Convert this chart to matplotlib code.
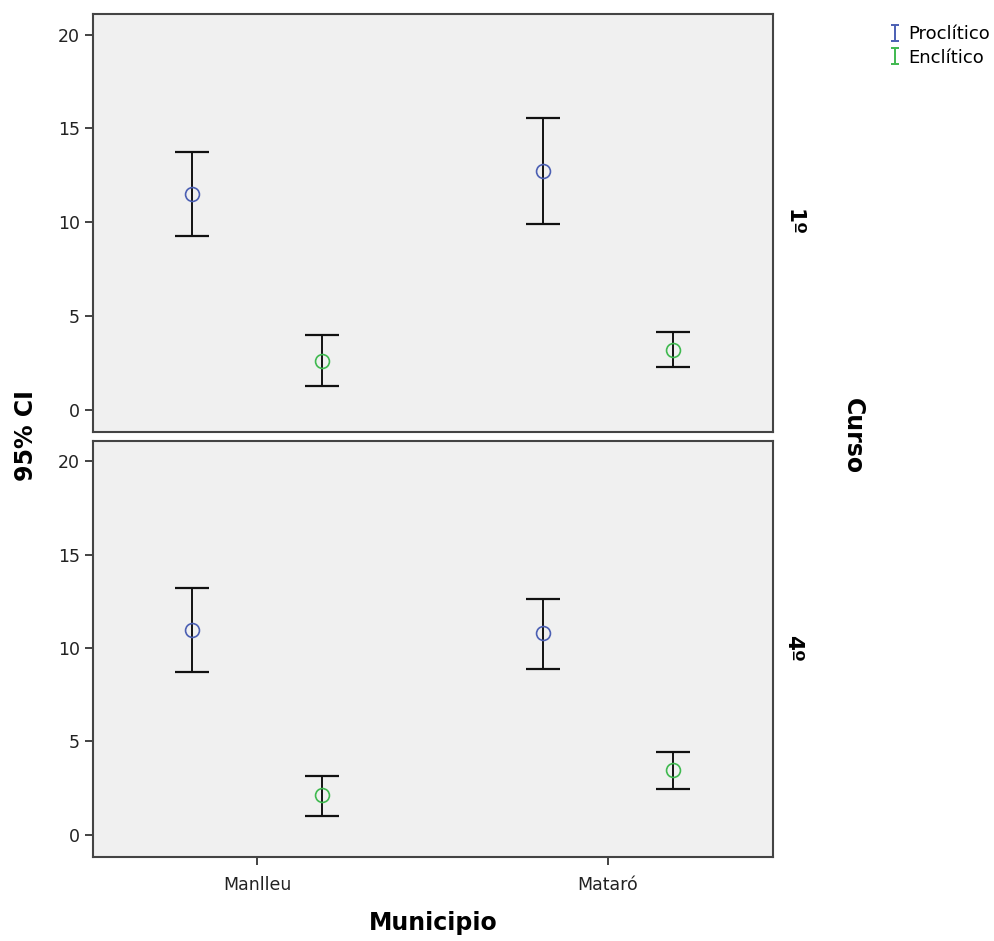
import matplotlib
matplotlib.use("Agg")
import matplotlib.pyplot as plt
from matplotlib.path import Path
from matplotlib.lines import Line2D

plt.rcParams['font.family'] = ['DejaVu Sans']

municipios = ['Manlleu', 'Mataró']
cursos = ['1º', '4º']
series = ['Proclítico', 'Enclítico']
colores = ['#4b5fb3', '#3fb94f']

# media, limite inferior, limite superior  [curso][serie][municipio]
medias = {
    '1º': {'Proclítico': [11.5, 12.7], 'Enclítico': [2.6, 3.2]},
    '4º': {'Proclítico': [10.95, 10.8], 'Enclítico': [2.1, 3.45]},
}
inferior = {
    '1º': {'Proclítico': [9.25, 9.9], 'Enclítico': [1.25, 2.25]},
    '4º': {'Proclítico': [8.7, 8.9], 'Enclítico': [1.0, 2.45]},
}
superior = {
    '1º': {'Proclítico': [13.75, 15.55], 'Enclítico': [3.95, 4.15]},
    '4º': {'Proclítico': [13.2, 12.65], 'Enclítico': [3.15, 4.45]},
}

desplaz = [-0.185, 0.185]

fig = plt.figure(figsize=(9.95, 9.41), dpi=100)
posiciones = [[0.0935, 0.5409, 0.6834, 0.4442],
              [0.0935, 0.0893, 0.6834, 0.4421]]

for k, curso in enumerate(cursos):
    ax = fig.add_axes(posiciones[k])
    ax.set_facecolor('#f0f0f0')
    for s, serie in enumerate(series):
        xs = [i + desplaz[s] for i in range(len(municipios))]
        m = medias[curso][serie]
        lo = [m[i] - inferior[curso][serie][i] for i in range(len(m))]
        hi = [superior[curso][serie][i] - m[i] for i in range(len(m))]
        ax.errorbar(xs, m, yerr=[lo, hi], fmt='none', ecolor='#111111',
                    elinewidth=1.4, capsize=12, capthick=1.6, zorder=2)
        ax.plot(xs, m, 'o', mfc='none', mec=colores[s], ms=10, mew=1.2, zorder=3)
    ax.set_xlim(-0.467, 1.47)
    ax.set_ylim(-1.2, 21.1)
    ax.set_yticks([0, 5, 10, 15, 20])
    ax.tick_params(axis='y', direction='out', length=6, width=1.2,
                   labelsize=12.5, colors='#222222')
    for sp in ax.spines.values():
        sp.set_color('#444444')
        sp.set_linewidth(1.5)
    ax.text(1.03, 0.5, curso, transform=ax.transAxes, rotation=-90,
            ha='center', va='center', fontsize=15.5, fontweight='bold')
    if k == 0:
        ax.set_xticks([])
    else:
        ax.set_xticks(range(len(municipios)))
        ax.set_xticklabels(municipios)
        ax.tick_params(axis='x', direction='out', length=6, width=1.2,
                       labelsize=12.5, colors='#222222', pad=8)
        ax.set_xlabel('Municipio', fontsize=17, fontweight='bold', labelpad=12)

fig.text(0.026, 0.537, '95% CI', rotation=90, ha='center', va='center',
         fontsize=17, fontweight='bold')
fig.text(0.857, 0.537, 'Curso', rotation=-90, ha='center', va='center',
         fontsize=17, fontweight='bold')

# simbolo de barra de error para la leyenda
ibeam = Path([(-0.5, -1), (0.5, -1), (0, -1), (0, 1), (-0.5, 1), (0.5, 1)],
             [Path.MOVETO, Path.LINETO, Path.MOVETO, Path.LINETO,
              Path.MOVETO, Path.LINETO])
handles = [Line2D([], [], ls='none', marker=ibeam, ms=11, mew=1.4,
                  color=c, mec=c) for c in colores]
fig.legend(handles, series, loc='upper left', bbox_to_anchor=(0.887, 0.981),
           frameon=False, fontsize=13, handlelength=0.6, handletextpad=0.45,
           labelspacing=0.3, borderaxespad=0)

fig.savefig('out.png', dpi=100)
